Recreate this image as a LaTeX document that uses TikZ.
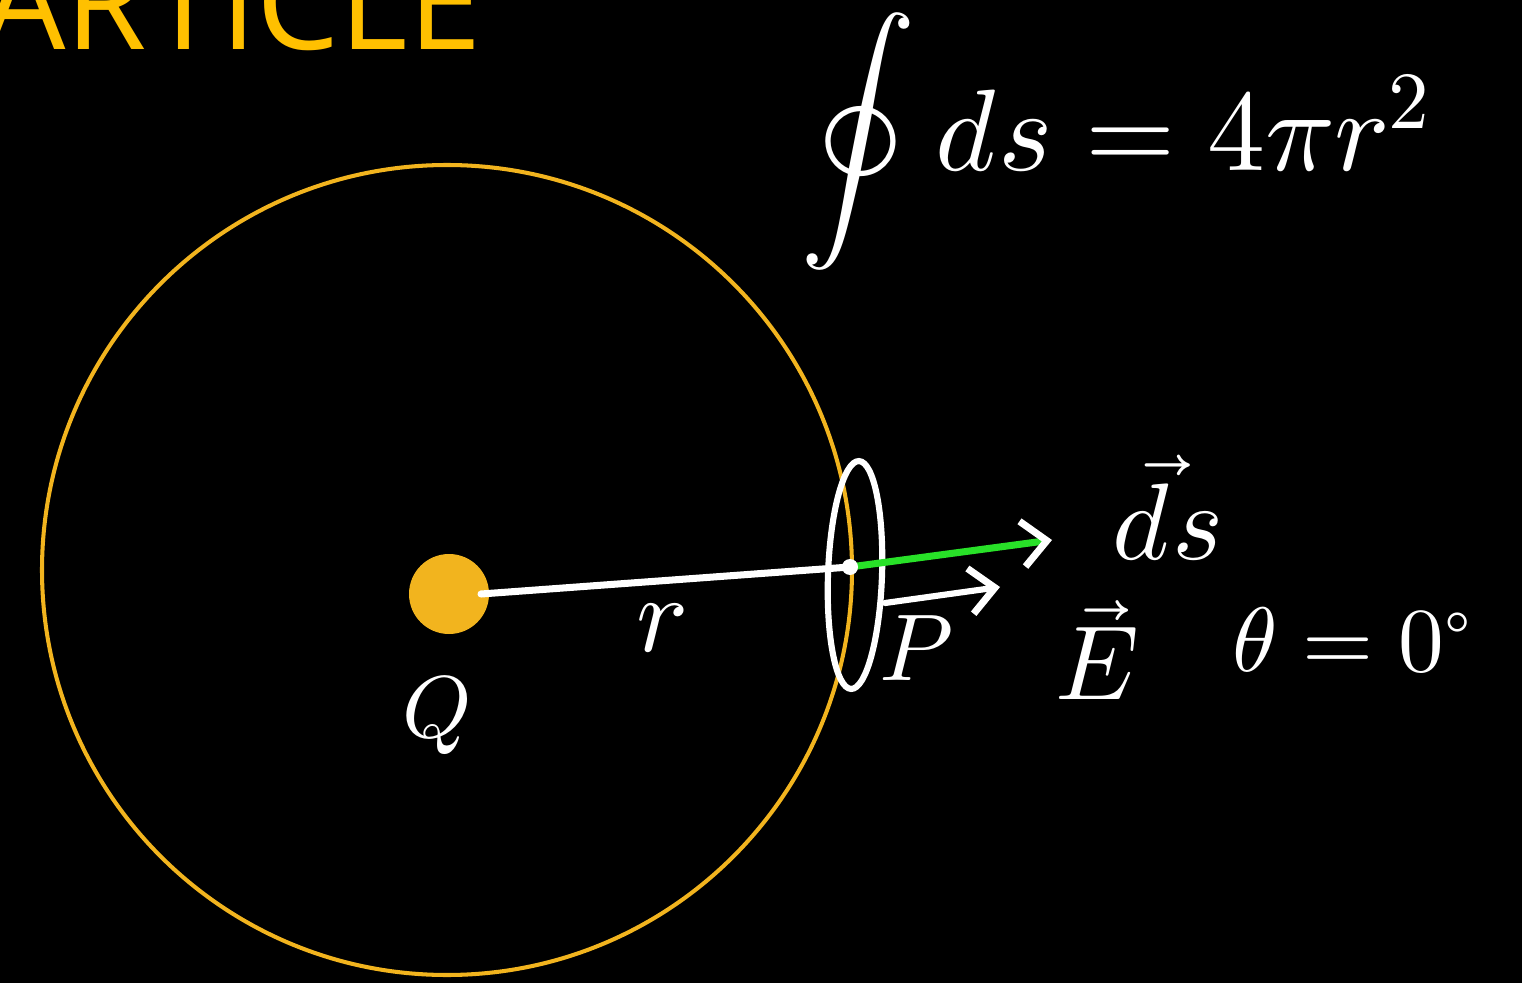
\documentclass[tikz,border=0pt]{standalone}
\usepackage{amsmath}
\usepackage{fontspec}
\usepackage{unicode-math}
\usepackage{tikz}
\usetikzlibrary{positioning,arrows.meta}
\newfontfamily\titlefont{Open Sans}
\definecolor{gaussyellow}{RGB}{242,180,30}
\definecolor{titleyellow}{RGB}{255,192,0}
\definecolor{dsgreen}{RGB}{40,225,40}

\begin{document}
\begin{tikzpicture}[
x=0.02cm, y=-0.02cm,
every node/.style={text=white},
chalk/.style={draw=white, line width=4pt, line cap=round},
hand/.style={font=\fontsize{50}{60}\selectfont},
head/.style={-{Straight Barb[length=14pt, width=26pt, line width=4pt, color=white]}}
]
\useasboundingbox (0,0) rectangle (1522,983);
\fill[black] (0,0) rectangle (1522,983);
\clip (0,0) rectangle (1522,983);
% title
\node[text=titleyellow, font=\titlefont\fontsize{75}{80}\selectfont, anchor=base east, inner sep=0pt] (title) at (482,50) {ARTICLE};
% gaussian sphere and charge
\coordinate (O) at (447,570);
\draw[gaussyellow, line width=2.3pt] (O) circle[radius=405];
\node[circle, fill=gaussyellow, minimum size=80*0.02cm, inner sep=0pt] (Q) at (449,594) {};
\coordinate (P) at (850,567);
\draw[chalk] (Q.center) ++(32,0) coordinate (r0) -- (P);
\node[hand, font=\fontsize{62}{70}\selectfont] (rlab) at (662,628) {$r$};
\node[hand] (qlab) at (437,715) {$Q$};
% surface element at P
\draw[chalk, line width=3.5pt, rotate around={-2:(855,575)}] (855,575) ellipse[x radius=27, y radius=114];
\node[hand, font=\fontsize{54}{60}\selectfont] (plab) at (917,648) {$P$};
\coordinate (dsend) at (1052,540);
\draw[dsgreen, line width=4pt, line cap=round, head] (P) -- (dsend);
\fill[white] (P) circle[radius=8];
\node[hand, font=\fontsize{62}{70}\selectfont] (dslab) at (1168,508) {$\vec{ds}$};
% field vector
\coordinate (E0) at (885,603);
\coordinate (E1) at (1000,587);
\draw[chalk, line width=3.5pt, head] (E0) -- (E1);
\node[hand, font=\fontsize{60}{70}\selectfont] (elab) at (1097,650) {$\vec{E}$};
\node[hand, font=\fontsize{52}{60}\selectfont] (theta) at (1352,640) {$\theta=0^\circ$};
% flux formula
\node[hand, font=\fontsize{66}{75}\selectfont] (flux) at (1115,142) {$\displaystyle\oint ds = 4\pi r^2$};
\end{tikzpicture}
\end{document}
